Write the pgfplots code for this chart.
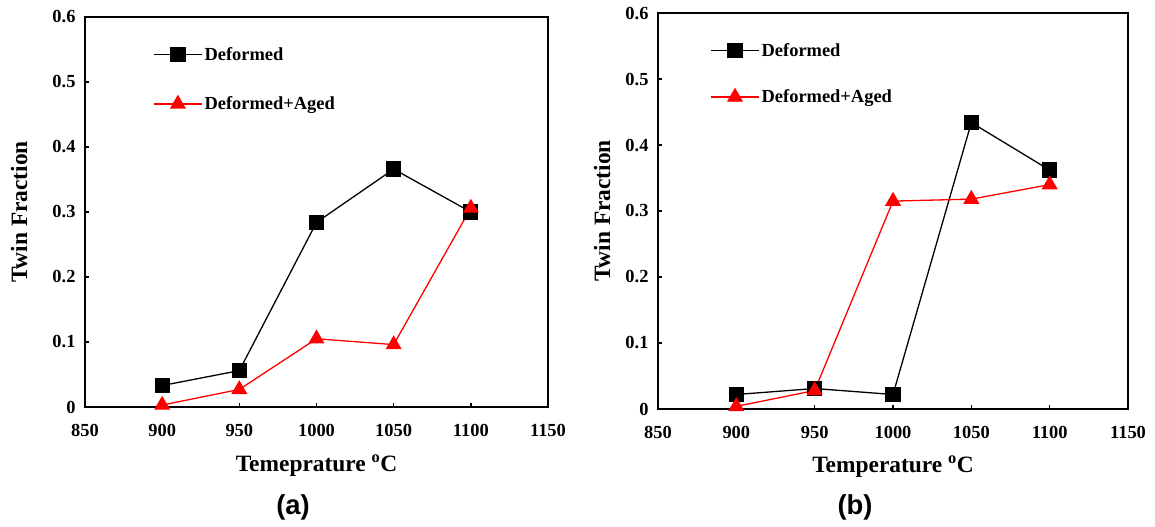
\documentclass[border=0pt]{standalone}
\usepackage{fontspec}
\setmainfont{Liberation Serif}
\newfontfamily\capfont{Liberation Sans}
\usepackage{pgfplots}
\pgfplotsset{compat=1.18}
\begin{document}
\begin{tikzpicture}[x=1bp,y=1bp]
\path[use as bounding box] (0bp,0bp) rectangle (1155bp,527bp);
\pgfplotsset{
 tfstyle/.style={
  scale only axis, clip=false,
  xmin=850, xmax=1150, ymin=0, ymax=0.6,
  xtick={850,900,950,1000,1050,1100,1150}, xticklabels={850,900,950,1000,1050,1100,1150},
  ytick={0,0.1,0.2,0.3,0.4,0.5,0.6}, yticklabels={0,0.1,0.2,0.3,0.4,0.5,0.6},
  tick align=inside, tick pos=left, major tick length=4bp,
  major tick style={line width=1.5bp, black},
  axis line style={line width=2.2bp},
  ticklabel style={font=\bfseries\fontsize{18.5}{20}\selectfont},
  label style={font=\bfseries\fontsize{23.5}{26}\selectfont},
  xticklabel style={yshift=-14bp}, yticklabel style={xshift=-6bp},
  legend cell align=left,
  legend style={draw=none, fill=none, font=\bfseries\fontsize{18.5}{20}\selectfont, inner sep=0pt},
  legend image code/.code={\draw[mark repeat=2,mark phase=2] plot coordinates {(0bp,0bp)(24bp,0bp)(48bp,0bp)};},
 },
 defstyle/.style={black, line width=1.3bp, mark=square*, mark size=7bp, mark options={solid}},
 agedstyle/.style={red, line width=1.3bp, mark=triangle*, mark size=8bp, mark options={solid}},
}
\begin{axis}[tfstyle, at={(85bp,120bp)}, anchor=south west, width=463bp, height=390bp,
  xlabel={Temeprature \textsuperscript{o}C}, ylabel={Twin Fraction},
  xlabel style={at={(axis description cs:0.5,-0.15)}, anchor=center},
  ylabel style={at={(axis description cs:-0.1425,0.5)}, anchor=center},
  legend style={at={(axis description cs:0.147,0.928)}, anchor=north west, row sep=31bp}]
\addplot[defstyle] coordinates {(900,0.033)(950,0.056)(1000,0.284)(1050,0.366)(1100,0.300)};
\addlegendentry{Deformed}
\addplot[agedstyle] coordinates {(900,0.003)(950,0.027)(1000,0.105)(1050,0.096)(1100,0.306)};
\addlegendentry{Deformed+Aged}
\end{axis}
\begin{axis}[tfstyle, at={(658bp,118bp)}, anchor=south west, width=470bp, height=396bp,
  xlabel={Temperature \textsuperscript{o}C}, ylabel={Twin Fraction},
  xlabel style={at={(axis description cs:0.5,-0.146)}, anchor=center},
  ylabel style={at={(axis description cs:-0.119,0.5)}, anchor=center},
  legend style={at={(axis description cs:0.111,0.929)}, anchor=north west, row sep=28bp}]
\addplot[defstyle] coordinates {(900,0.022)(950,0.031)(1000,0.022)(1050,0.434)(1100,0.362)};
\addlegendentry{Deformed}
\addplot[agedstyle] coordinates {(900,0.004)(950,0.028)(1000,0.315)(1050,0.318)(1100,0.340)};
\addlegendentry{Deformed+Aged}
\end{axis}
\node[font=\capfont\bfseries\fontsize{27.5}{30}\selectfont] at (293bp,20bp) {(a)};
\node[font=\capfont\bfseries\fontsize{27.5}{30}\selectfont] at (855bp,20bp) {(b)};
\end{tikzpicture}
\end{document}
